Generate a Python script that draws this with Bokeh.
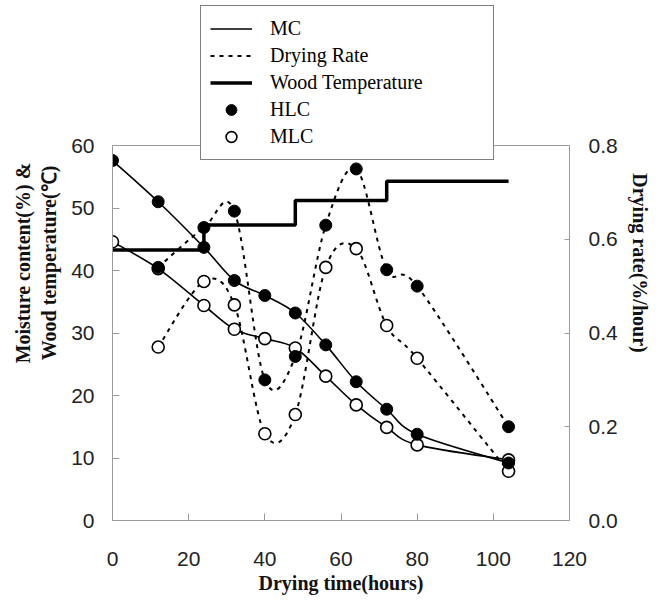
import numpy as np
from bokeh.plotting import figure
from bokeh.models import (Range1d, LinearAxis, FixedTicker, PrintfTickFormatter,
                          Legend, LegendItem, ColumnDataSource, Span)
from bokeh.embed import file_html
from bokeh.resources import INLINE

# ---------------- data ----------------
time_h = [0, 12, 24, 32, 40, 48, 56, 64, 72, 80, 104]
mc_hlc = [57.6, 51.0, 43.7, 38.4, 36.0, 33.2, 28.1, 22.2, 17.8, 13.8, 9.2]
mc_mlc = [44.6, 40.3, 34.4, 30.6, 29.1, 27.6, 23.1, 18.5, 14.9, 12.1, 9.7]

rate_time = [12, 24, 32, 40, 48, 56, 64, 72, 80, 104]
rate_hlc = [0.54, 0.625, 0.66, 0.30, 0.35, 0.63, 0.75, 0.535, 0.50, 0.20]
rate_mlc = [0.37, 0.51, 0.46, 0.185, 0.226, 0.54, 0.58, 0.416, 0.346, 0.105]

temp_time = [0, 24, 48, 72, 104]
wood_temp = [43.3, 47.3, 51.2, 54.3, 54.3]

x_ticks = [0, 20, 40, 60, 80, 100, 120]
y_ticks = [0, 10, 20, 30, 40, 50, 60]
rate_ticks = [0.0, 0.2, 0.4, 0.6, 0.8]

legend_labels = ["MC", "Drying Rate", "Wood Temperature", "HLC", "MLC"]


def smooth(xs, ys):
    """Bezier segments (Catmull-Rom style smoothing, like a spreadsheet's smoothed line)."""
    x = np.asarray(xs, float)
    y = np.asarray(ys, float)
    n = len(x)
    xp = np.concatenate([[x[0]], x, [x[-1]]])
    yp = np.concatenate([[y[0]], y, [y[-1]]])
    return dict(
        x0=x[:-1], y0=y[:-1], x1=x[1:], y1=y[1:],
        cx0=x[:-1] + (xp[2:n + 1] - xp[0:n - 1]) / 6.0,
        cy0=y[:-1] + (yp[2:n + 1] - yp[0:n - 1]) / 6.0,
        cx1=x[1:] - (xp[3:n + 2] - xp[1:n]) / 6.0,
        cy1=y[1:] - (yp[3:n + 2] - yp[1:n]) / 6.0,
    )


SERIF = "Liberation Serif"
SANS = "Liberation Sans"
GREY = "#9a9a9a"

# layout: the frame is taller than the plotted box so the legend can sit above it
PLOT_H = 375          # pixel height of the 0..60 box
FRAME_H = 515         # frame height incl. room for the legend above the box
y_top = y_ticks[-1] * FRAME_H / PLOT_H
rate_top = rate_ticks[-1] * FRAME_H / PLOT_H

p = figure(frame_width=457, frame_height=FRAME_H,
           min_border_left=112, min_border_right=82,
           min_border_top=5, min_border_bottom=76,
           x_range=Range1d(0, 120), y_range=Range1d(0, y_top),
           output_backend="svg", toolbar_location=None,
           background_fill_color="white", border_fill_color="white")
p.extra_y_ranges = {"rate": Range1d(0, rate_top)}

p.xgrid.visible = False
p.ygrid.visible = False
p.outline_line_color = None

# top edge of the plotting box
p.add_layout(Span(location=y_ticks[-1], dimension="width", line_color=GREY, line_width=1))

DASH = "4 5"

# drying-rate curves (right axis)
r_dr = p.bezier(source=ColumnDataSource(smooth(rate_time, rate_hlc)),
                x0="x0", y0="y0", x1="x1", y1="y1", cx0="cx0", cy0="cy0", cx1="cx1", cy1="cy1",
                line_color="black", line_width=2, line_dash=DASH, y_range_name="rate")
p.bezier(source=ColumnDataSource(smooth(rate_time, rate_mlc)),
         x0="x0", y0="y0", x1="x1", y1="y1", cx0="cx0", cy0="cy0", cx1="cx1", cy1="cy1",
         line_color="black", line_width=2, line_dash=DASH, y_range_name="rate")

# moisture content curves
r_mc = p.bezier(source=ColumnDataSource(smooth(time_h, mc_hlc)),
                x0="x0", y0="y0", x1="x1", y1="y1", cx0="cx0", cy0="cy0", cx1="cx1", cy1="cy1",
                line_color="black", line_width=1.6)
p.bezier(source=ColumnDataSource(smooth(time_h, mc_mlc)),
         x0="x0", y0="y0", x1="x1", y1="y1", cx0="cx0", cy0="cy0", cx1="cx1", cy1="cy1",
         line_color="black", line_width=1.6)

# wood temperature
r_wt = p.step(temp_time, wood_temp, mode="after", line_color="black", line_width=3.5)

# markers: open (MLC) first, filled (HLC) on top
MS = 12
r_m = p.scatter(time_h, mc_mlc, size=MS, fill_color="white", line_color="black", line_width=1.6)
p.scatter(rate_time, rate_mlc, size=MS, fill_color="white", line_color="black",
          line_width=1.6, y_range_name="rate")
r_h = p.scatter(time_h, mc_hlc, size=MS, fill_color="black", line_color="black")
p.scatter(rate_time, rate_hlc, size=MS, fill_color="black", line_color="black",
          y_range_name="rate")

legend = Legend(items=[LegendItem(label=l, renderers=[r]) for l, r in
                       zip(legend_labels, [r_mc, r_dr, r_wt, r_h, r_m])],
                location=(88, 360), orientation="vertical",
                glyph_width=42, glyph_height=27, label_height=27, spacing=0,
                label_standoff=18, label_width=214, padding=9, margin=0,
                label_text_font=SERIF, label_text_font_size="20px", label_text_color="black",
                border_line_color="black", border_line_width=1.5,
                background_fill_color="white", background_fill_alpha=1)
p.add_layout(legend, "center")

# axes
xa = p.xaxis[0]
xa.ticker = FixedTicker(ticks=x_ticks)
xa.axis_label = "Drying time(hours)"
ya = p.yaxis[0]
ya.ticker = FixedTicker(ticks=y_ticks)
ya.bounds = (y_ticks[0], y_ticks[-1])
ya.axis_label = "Moisture content(%) &\nWood temperature(℃)"

ra = LinearAxis(y_range_name="rate", ticker=FixedTicker(ticks=rate_ticks),
                formatter=PrintfTickFormatter(format="%.1f"),
                bounds=(rate_ticks[0], rate_ticks[-1]),
                axis_label="Drying rate(%/hour)")
p.add_layout(ra, "right")

for ax in (xa, ya, ra):
    ax.axis_line_color = GREY
    ax.axis_line_width = 1
    ax.major_tick_line_color = GREY
    ax.major_tick_in = 7
    ax.major_tick_out = 0
    ax.minor_tick_line_color = None
    ax.major_label_text_font = SANS
    ax.major_label_text_font_size = "21px"
    ax.major_label_text_color = "#222222"
    ax.axis_label_text_font = SERIF
    ax.axis_label_text_font_size = "20px"
    ax.axis_label_text_font_style = "bold"
    ax.axis_label_text_color = "#111111"

xa.major_label_standoff = 31
xa.axis_label_standoff = 3
ya.major_label_standoff = 18
ya.axis_label_standoff = 8
ra.major_label_standoff = 19
ra.axis_label_standoff = 8
ra.major_tick_in = 5
if "axis_label_orientation" in ra.properties():
    ra.axis_label_orientation = "vertical"

open("out.html", "w").write(file_html(p, INLINE))
